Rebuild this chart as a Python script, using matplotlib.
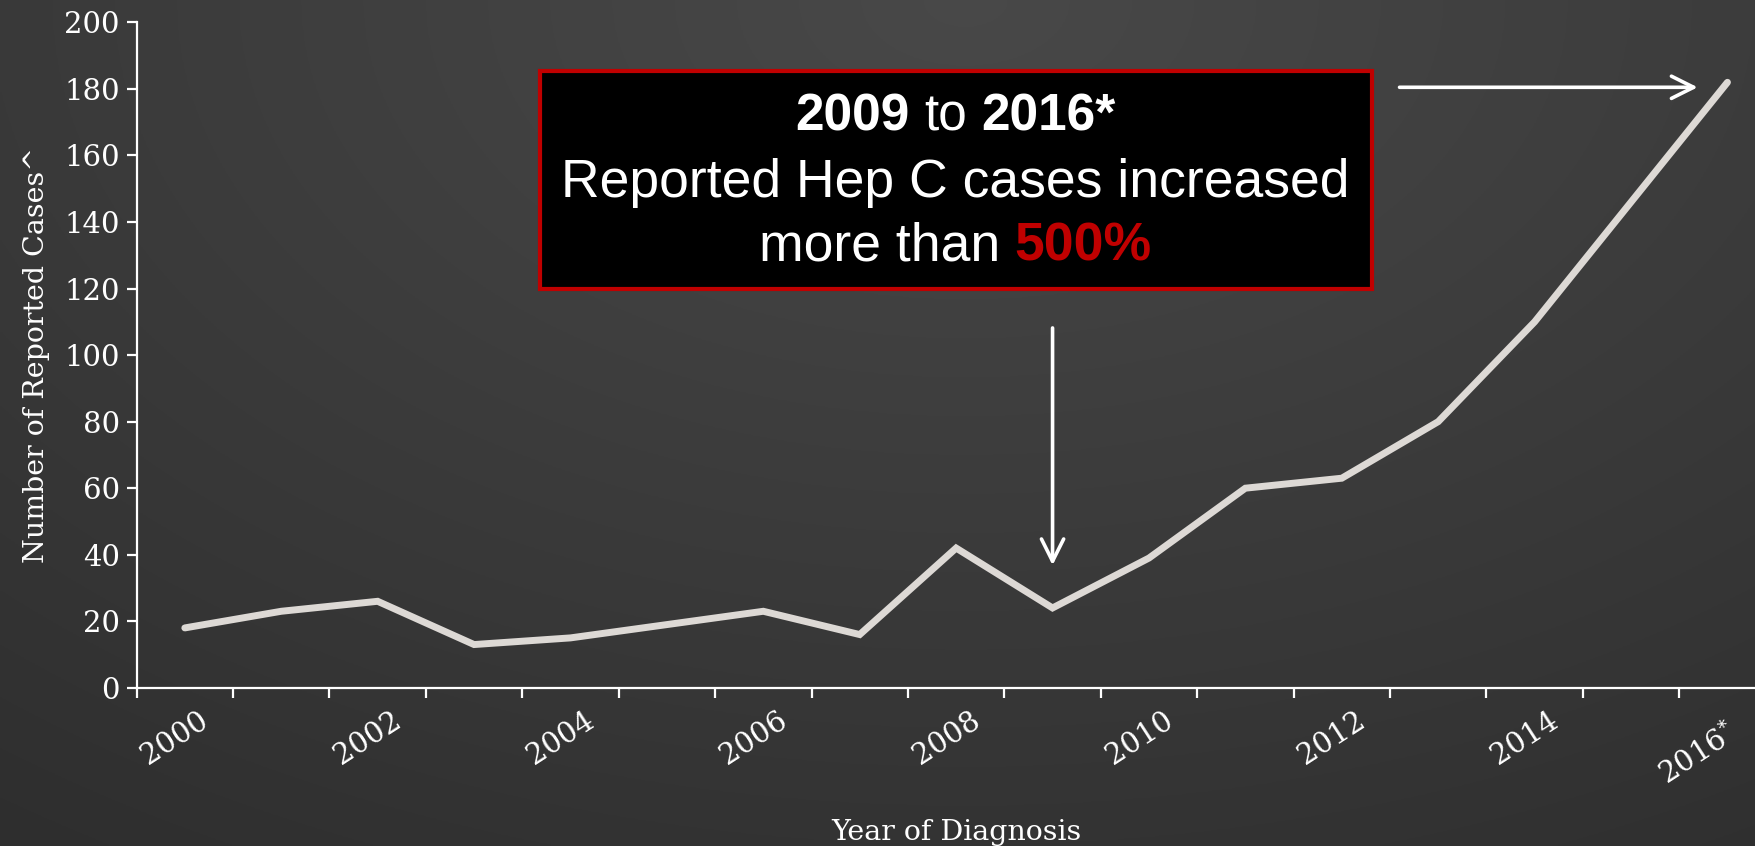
import numpy as np
import matplotlib.pyplot as plt
from matplotlib.patches import Rectangle
from matplotlib.transforms import ScaledTranslation

# --- data ---
years = list(range(2000, 2017))
cases = [18, 23, 26, 13, 15, 19, 23, 16, 42, 24, 39, 60, 63, 80, 110, 146, 182]
label_years = ["2000", "2002", "2004", "2006", "2008", "2010", "2012", "2014", "2016$^{*}$"]
y_ticks = list(range(0, 201, 20))

LINE_COLOR = "#DDD9D5"
RED = "#C00000"
SERIF = "DejaVu Serif"
SANS = "Liberation Sans"

fig = plt.figure(figsize=(17.56, 8.46), dpi=100)

# --- dark radial background ---
bg = fig.add_axes([0, 0, 1, 1], zorder=-10)
yy, xx = np.mgrid[0:1:300j, 0:1:600j]
d = np.sqrt(((xx - 0.55) * 1.3) ** 2 + (yy * 1.0) ** 2)
shade = np.clip(0.285 - 0.085 * d, 0.17, 0.3)
bg.imshow(np.dstack([shade, shade, shade]), aspect="auto", extent=[0, 1, 0, 1], origin="upper")
bg.axis("off")

# --- main axes ---
ax = fig.add_axes([0.0778, 0.187, 0.9334, 0.7865])
ax.set_facecolor("none")
x = np.arange(len(years))
ax.plot(x, cases, color=LINE_COLOR, lw=5, solid_capstyle="round", solid_joinstyle="miter", zorder=3)

ax.set_xlim(-0.5, len(years) - 0.5)
ax.set_ylim(0, 200)

for side in ["top", "right"]:
    ax.spines[side].set_visible(False)
for side in ["left", "bottom"]:
    ax.spines[side].set_color("white")
    ax.spines[side].set_linewidth(1.6)

ax.set_yticks(y_ticks)
ax.tick_params(axis="y", colors="white", length=7, width=1.6, pad=5, labelsize=21)
for lbl in ax.get_yticklabels():
    lbl.set_family(SERIF)

# tick marks between years, labels on every second year
ax.set_xticks(np.arange(-0.5, len(years), 1.0))
ax.set_xticklabels([])
ax.tick_params(axis="x", which="major", colors="white", length=7, width=1.6)
ax.set_xticks(x[::2], minor=True)
ax.set_xticklabels(label_years, minor=True, rotation=33, ha="center", va="top",
                   family=SERIF, fontsize=21, color="white")
ax.tick_params(axis="x", which="minor", length=0, pad=13)
shift = ScaledTranslation(-7 / 72, 0, fig.dpi_scale_trans)
for lbl in ax.get_xticklabels(minor=True):
    lbl.set_transform(lbl.get_transform() + shift)
last = ax.get_xticklabels(minor=True)[-1]
last.set_transform(last.get_transform() + ScaledTranslation(-14 / 72, -9 / 72, fig.dpi_scale_trans))

ax.set_ylabel("Number of Reported Cases^", family=SERIF, fontsize=20.5, color="white", labelpad=10)
ax.set_xlabel("Year of Diagnosis", family=SERIF, fontsize=20.5, color="white", labelpad=21)

# --- arrows ---
arrow = dict(arrowstyle="->", color="white", lw=2.6, mutation_scale=40)
ax.annotate("", xy=(9, 36), xytext=(9, 109), arrowprops=arrow)
ax.annotate("", xy=(15.72, 180.5), xytext=(12.57, 180.5), arrowprops=arrow)

# --- call-out box ---
box = Rectangle((0.3075, 0.658), 0.4738, 0.258, transform=fig.transFigure,
                facecolor="black", edgecolor=RED, lw=3, zorder=5)
fig.patches.append(box)

renderer = fig.canvas.get_renderer()


def rich_line(y, parts, size, cx=0.544):
    # parts: (text, weight, color); a space is put between consecutive parts
    probe = fig.text(0, 0, "a a", fontsize=size, family=SANS)
    probe2 = fig.text(0, 0, "aa", fontsize=size, family=SANS)
    gap = probe.get_window_extent(renderer).width - probe2.get_window_extent(renderer).width
    probe.remove()
    probe2.remove()
    items = []
    for s, weight, color in parts:
        t = fig.text(0, y, s, fontsize=size, fontweight=weight, color=color,
                     family=SANS, va="center", ha="left", zorder=6)
        items.append((t, t.get_window_extent(renderer).width))
    total = sum(w for _, w in items) + gap * (len(items) - 1)
    xpix = cx * fig.bbox.width - total / 2
    for t, w in items:
        t.set_x(xpix / fig.bbox.width)
        xpix += w + gap


rich_line(0.862, [("2009", "bold", "white"), ("to", "normal", "white"), ("2016*", "bold", "white")], 37)
rich_line(0.784, [("Reported Hep C cases increased", "normal", "white")], 38.5)
rich_line(0.709, [("more than", "normal", "white"), ("500%", "bold", RED)], 38.5)

fig.savefig("out.png", dpi=100)
